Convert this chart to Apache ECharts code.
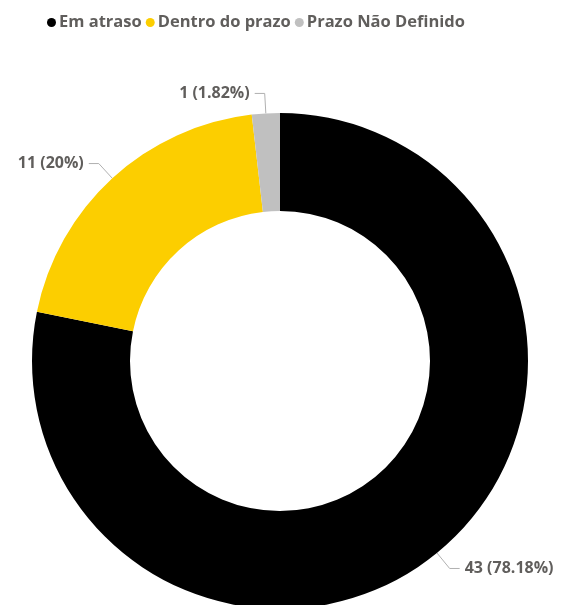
<!DOCTYPE html>
<html>
<head>
<meta charset="utf-8">
<script src="https://cdn.jsdelivr.net/npm/echarts@6/dist/echarts.min.js"></script>
<style>
html,body{margin:0;padding:0;background:#fff;}
#chart{width:564px;height:605px;}
</style>
</head>
<body>
<div id="chart"></div>
<script>
// Status categories and task counts
const categories = ['Em atraso', 'Dentro do prazo', 'Prazo Não Definido'];
const counts = [43, 11, 1];
const colors = ['#000000', '#fcce00', '#c0c0c0'];

const chart = echarts.init(document.getElementById('chart'));
const font = '"Open Sans", "Segoe UI", sans-serif';

chart.setOption({
  animation: false,
  color: colors,
  legend: {
    top: 9,
    left: 42,
    icon: 'circle',
    itemWidth: 9,
    itemHeight: 9,
    itemGap: 4,
    textStyle: { fontFamily: font, fontWeight: 'bold', fontSize: 16.5, color: '#605e5c', padding: [0, 0, 0, -2] },
    data: categories
  },
  series: [{
    type: 'pie',
    center: [280, 361],
    radius: [150, 248],
    startAngle: 90,
    clockwise: true,
    avoidLabelOverlap: false,
    data: categories.map((n, i) => ({ name: n, value: counts[i] })),
    label: {
      formatter: '{c} ({d}%)',
      fontFamily: font,
      fontWeight: 'bold',
      fontSize: 16,
      color: '#605e5c'
    },
    labelLine: {
      length: 20,
      length2: 10,
      lineStyle: { color: '#b0b0b0', width: 1 }
    }
  }]
});
</script>
</body>
</html>
